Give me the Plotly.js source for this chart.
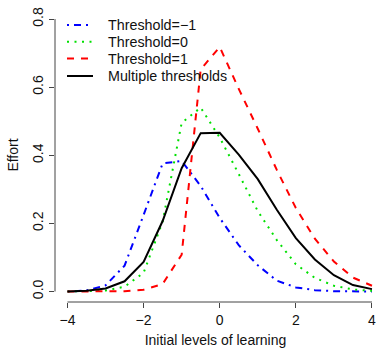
<!DOCTYPE html>
<html>
<head>
<meta charset="utf-8">
<script src="https://cdn.plot.ly/plotly-3.0.1.min.js"></script>
<style>html,body{margin:0;padding:0;background:#fff;}#chart{width:376px;height:348px;}</style>
</head>
<body>
<div id="chart"></div>
<script>
// ---- data ----
var learning = [-4,-3.5,-3,-2.5,-2,-1.5,-1,-0.5,0,0.5,1,1.5,2,2.5,3,3.5,4];
var thresholdMinus1 = [0.000,0.003,0.018,0.076,0.225,0.376,0.383,0.310,0.216,0.136,0.077,0.032,0.012,0.004,0.001,0.000,0.000];
var threshold0      = [0.000,0.001,0.003,0.014,0.055,0.205,0.495,0.540,0.452,0.345,0.236,0.151,0.080,0.040,0.017,0.006,0.002];
var threshold1      = [0.000,0.000,0.0005,0.001,0.005,0.022,0.108,0.652,0.718,0.595,0.478,0.357,0.245,0.155,0.088,0.041,0.017];
var multiple        = [0.000,0.002,0.009,0.030,0.087,0.207,0.362,0.465,0.466,0.402,0.330,0.240,0.157,0.094,0.048,0.019,0.007];
var seriesNames = ["Threshold=\u22121","Threshold=0","Threshold=1","Multiple thresholds"];
var xTickVals = [-4,-2,0,2,4];
var xTickText = ["\u22124","\u22122","0","2","4"];
var yTickVals = [0,0.2,0.4,0.6,0.8];
var yTickText = ["0.0","0.2","0.4","0.6","0.8"];
var xTitle = "Initial levels of learning";
var yTitle = "Effort";

// ---- styles ----
var styles = [
  {color:"#0000FF", dash:"2px,5px,7px,5px", width:2},
  {color:"#00E000", dash:"2px,5.5px", width:2},
  {color:"#FF0000", dash:"7px,7px", width:2},
  {color:"#000000", dash:"solid", width:2}
];
var ys = [thresholdMinus1, threshold0, threshold1, multiple];

var traces = ys.map(function(y,i){
  return {x: learning, y: y, type:"scatter", mode:"lines", name: seriesNames[i],
          line:{color:styles[i].color, dash:styles[i].dash, width:styles[i].width},
          showlegend:false, hoverinfo:"skip"};
});

var W=376,H=348, mL=55, mR=0, mT=8, mB=46;
var pw=W-mL-mR, ph=H-mT-mB;
function px2x(p){return (p-mL)/pw;}
function py2y(p){return (H-mB-p)/ph;}

var fontFam = "Liberation Sans, Arial, sans-serif";
var shapes = [
  // axis lines (R style: only between extreme ticks)
  {type:"line", xref:"x", yref:"paper", x0:xTickVals[0], x1:xTickVals[xTickVals.length-1], y0:0, y1:0, line:{color:"#444", width:1}},
  {type:"line", xref:"paper", yref:"y", x0:0, x1:0, y0:yTickVals[0], y1:yTickVals[yTickVals.length-1], line:{color:"#444", width:1}}
];
var annotations = [];
var legendRows = [25, 41.7, 58.5, 76];
legendRows.forEach(function(r,i){
  shapes.push({type:"line", xref:"paper", yref:"paper", x0:px2x(67), x1:px2x(93), y0:py2y(r), y1:py2y(r),
    line:{color:styles[i].color, dash:styles[i].dash, width:styles[i].width}});
  annotations.push({xref:"paper", yref:"paper", x:px2x(106), y:py2y(r), xanchor:"left", yanchor:"middle",
    text:seriesNames[i], showarrow:false, font:{family:fontFam, size:14.3, color:"#111"}});
});

var layout = {
  width:W, height:H, margin:{l:mL,r:mR,t:mT,b:mB},
  paper_bgcolor:"#fff", plot_bgcolor:"#fff",
  font:{family:fontFam, size:14, color:"#111"},
  showlegend:false,
  xaxis:{range:[-4.328,4.106], showgrid:false, zeroline:false, showline:false,
         tickmode:"array", tickvals:xTickVals, ticktext:xTickText,
         ticks:"outside", ticklen:5, tickwidth:1, tickcolor:"#444",
         ticklabeloverflow:"allow",
         tickfont:{family:fontFam, size:14, color:"#111"},
         title:{text:xTitle, font:{family:fontFam, size:14, color:"#111"}, standoff:8}},
  yaxis:{range:[-0.0308,0.8324], showgrid:false, zeroline:false, showline:false,
         tickmode:"array", tickvals:yTickVals, ticktext:yTickText,
         ticks:"outside", ticklen:5, tickwidth:1, tickcolor:"#444", tickangle:-90,
         ticklabeloverflow:"allow",
         tickfont:{family:fontFam, size:14, color:"#111"},
         title:{text:yTitle, font:{family:fontFam, size:14, color:"#111"}, standoff:8}},
  shapes:shapes, annotations:annotations
};
Plotly.newPlot("chart", traces, layout, {displayModeBar:false, staticPlot:true});
</script>
</body>
</html>
